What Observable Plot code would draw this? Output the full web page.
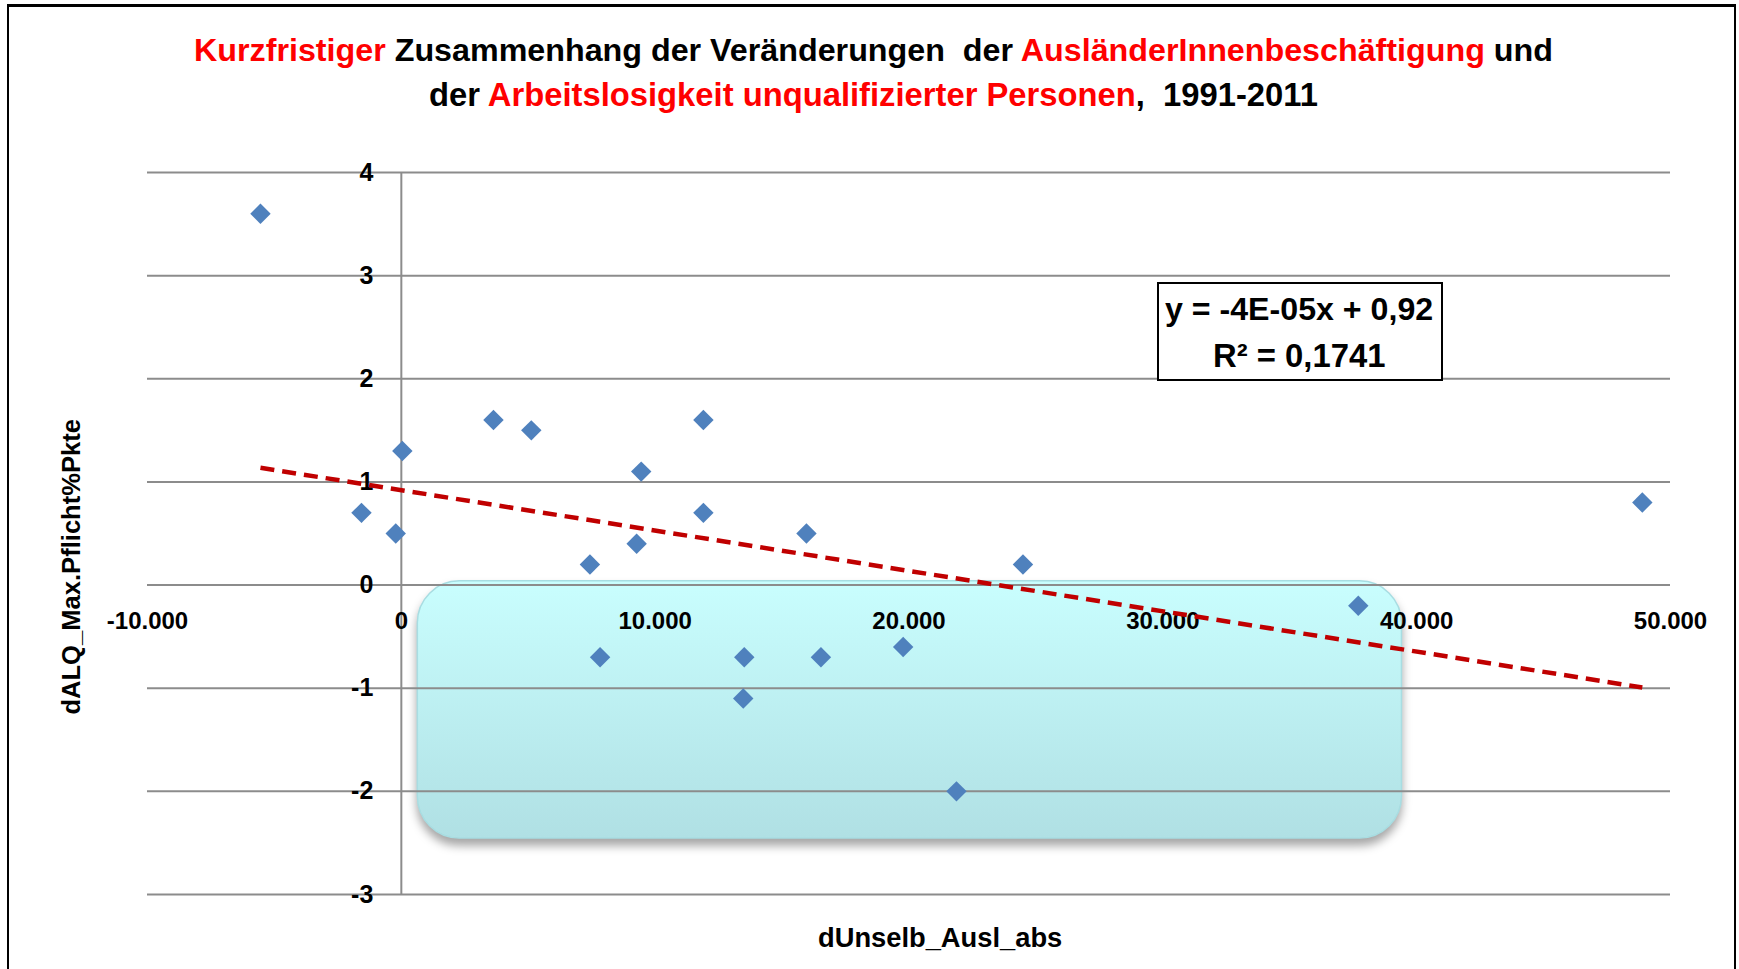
<!DOCTYPE html>
<html><head><meta charset="utf-8">
<script src="https://cdn.jsdelivr.net/npm/d3@7"></script>
<script src="https://cdn.jsdelivr.net/npm/@observablehq/plot@0.6"></script>
<style>
html,body{margin:0;padding:0;background:#fff;overflow:hidden}
#page{position:relative;width:1739px;height:969px;overflow:hidden;font-family:"Liberation Sans",Arial,sans-serif;font-weight:bold;color:#000}
#frame{position:absolute;left:7px;top:4px;width:1729px;height:1000px;border:2px solid #000;border-top-width:3px;box-sizing:border-box}
.t{position:absolute;white-space:pre;line-height:1;font-size:30px}
.red{color:#ff0000}
#eq{position:absolute;left:1157px;top:282px;width:286px;height:99px;border:2px solid #000;box-sizing:border-box;background:#fff}
#chart{position:absolute;left:0;top:0}
</style></head>
<body><div id="page"><div id="frame"></div><div id="chart"></div><div id="eq"></div></div>
<script>
// ---- data ----
const xVals = [-5550, -1570, -220, 40, 3630, 5120, 7430, 7830, 9270, 9450, 11900, 11900, 13510, 13470, 15960, 16530, 19770, 21870, 24490, 37700, 48890];
const yVals = [3.6, 0.7, 0.5, 1.3, 1.6, 1.5, 0.2, -0.7, 0.4, 1.1, 1.6, 0.7, -0.7, -1.1, 0.5, -0.7, -0.6, -2.0, 0.2, -0.2, 0.8];
const xTicks = [-10000, 0, 10000, 20000, 30000, 40000, 50000];
const yTicks = [-3, -2, -1, 0, 1, 2, 3, 4];
const highlightX = [650, 39420];
const highlightY = [-2.457, 0.036];
const titleLine1 = [["Kurzfristiger", true], [" Zusammenhang der Veränderungen  der ", false], ["AusländerInnenbeschäftigung", true], [" und", false]];
const titleLine2 = [["der ", false], ["Arbeitslosigkeit unqualifizierter Personen", true], [",  1991-2011", false]];
const xLabel = "dUnselb_Ausl_abs";
const yLabel = "dALQ_Max.Pflicht%Pkte";
const eqLines = ["y = -4E-05x + 0,92", "R² = 0,1741"];

const points = xVals.map((x, i) => ({x, y: yVals[i]}));
const de = d3.formatLocale({decimal: ",", thousands: ".", grouping: [3], currency: ["", ""], minus: "-"});
const fmtX = de.format(",");

const chart = Plot.plot({
  width: 1739, height: 969,
  marginLeft: 147, marginRight: 69, marginTop: 172, marginBottom: 75,
  x: {domain: [-10000, 50000], axis: null},
  y: {domain: [-3, 4], axis: null},
  style: {background: "transparent", fontFamily: "'Liberation Sans', Arial, sans-serif"},
  marks: [
    Plot.rect([{}], {x1: () => highlightX[0], x2: () => highlightX[1], y1: () => highlightY[0], y2: () => highlightY[1],
      fill: "#c8fdfd", stroke: "#a8dde2", strokeWidth: 1.5, rx: 42}),
    Plot.ruleY(yTicks, {x1: -10000, x2: 50000, stroke: "#8c8c8c", strokeWidth: 2}),
    Plot.ruleX([0], {y1: -3, y2: 4, stroke: "#8c8c8c", strokeWidth: 2}),
    Plot.text(yTicks, {x: 0, y: d => d, text: d => String(d), textAnchor: "end", dx: -28, fontSize: 25, fontWeight: "bold", fill: "#000"}),
    Plot.text(xTicks, {x: d => d, y: 0, text: d => fmtX(d), dy: 36, fontSize: 24, fontWeight: "bold", fill: "#000"}),
    Plot.linearRegressionY(points, {x: "x", y: "y", stroke: "#c00000", strokeWidth: 4.5, strokeDasharray: "14,8", strokeLinecap: "butt", ci: 0}),
    Plot.dot(points, {x: "x", y: "y", symbol: "diamond2", r: 9.2, fill: "#4f81bd", stroke: "none"})
  ]
});
document.getElementById("chart").appendChild(chart);

// gradient + shadow for the highlight box
const svg = d3.select(chart);
const defs = svg.insert("defs", ":first-child");
const grad = defs.append("linearGradient").attr("id", "boxGrad").attr("x1", 0).attr("y1", 0).attr("x2", 0).attr("y2", 1);
grad.append("stop").attr("offset", "0%").attr("stop-color", "#c9fefe");
grad.append("stop").attr("offset", "100%").attr("stop-color", "#b0e0e4");
svg.selectAll("g[aria-label='rect'] rect, g[aria-label='rect'] path")
  .attr("fill", "url(#boxGrad)")
  .style("filter", "drop-shadow(0px 7px 5px rgba(0,0,0,0.35))");

// ---- text overlays ----
const page = document.getElementById("page");
function makeText(parts) {
  const el = document.createElement("div");
  el.className = "t";
  parts.forEach(([s, red]) => { const sp = document.createElement("span"); sp.textContent = s; if (red) sp.className = "red"; el.appendChild(sp); });
  return el;
}
function place(el, cx, cy, targetW, rotate) {
  page.appendChild(el);
  if (targetW) {
    const fs = parseFloat(getComputedStyle(el).fontSize);
    el.style.fontSize = (fs * targetW / el.offsetWidth) + "px";
  }
  const w = el.offsetWidth, h = el.offsetHeight;
  el.style.left = (cx - w / 2) + "px";
  el.style.top = (cy - h / 2) + "px";
  if (rotate) el.style.transform = `rotate(${rotate}deg)`;
}
place(makeText(titleLine1), 873.5, 49.5, 1359);
place(makeText(titleLine2), 873.5, 95.5, 889);
place(makeText([[xLabel, false]]), 940, 937, 244);
place(makeText([[yLabel, false]]), 72, 567, 296, -90);
place(makeText([[eqLines[0], false]]), 1299, 309, 268);
place(makeText([[eqLines[1], false]]), 1299, 356, 173);
</script></body></html>
